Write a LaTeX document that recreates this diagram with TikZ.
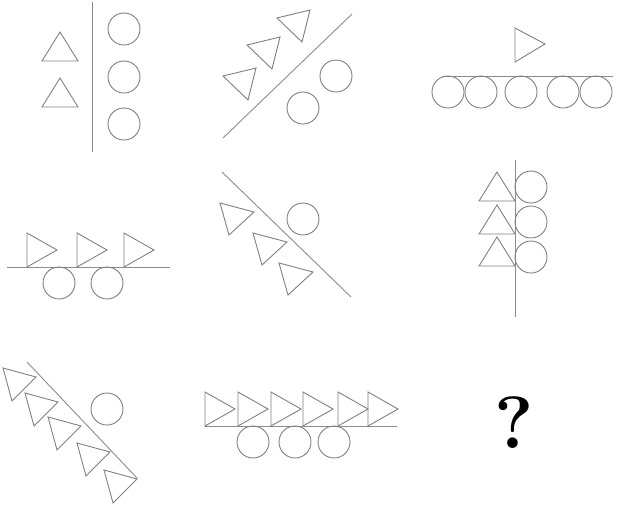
\documentclass[tikz,border=0pt]{standalone}
\usepackage{tikz}

\begin{document}
\begin{tikzpicture}[
  x=1pt, y=-1pt,
  ax/.style={draw=black!45, line width=0.9pt},
  tri/.style={draw=black!50, line width=0.9pt, line join=miter},
  circ/.style={draw=black!50, line width=0.9pt},
  qmark/.style={font=\fontsize{74}{74}\selectfont\bfseries, inner sep=0pt}
]
\useasboundingbox (0,0) rectangle (619,507);

% row 1
\draw[ax] (92,2) -- (92,152);
\foreach \y in {61,107}
  \draw[tri] (42,\y) -- (60,\y-29) -- (78,\y) -- cycle;
\foreach \y in {29,77,124}
  \draw[circ] (124,\y) circle[radius=16pt];

\draw[ax] (223,138) -- (352,14);
\foreach \dx/\dy in {0/0,-30/27,-54/58}
  \draw[tri,shift={(\dx,\dy)}] (277,18) -- (310,10) -- (302,42) -- cycle;
\draw[circ] (336,76) circle[radius=16pt];
\draw[circ] (303,108) circle[radius=16pt];

\draw[ax] (442,76) -- (613,76);
\draw[tri] (515,28) -- (545,44) -- (515,62) -- cycle;
\foreach \x in {448,481,521,563,596}
  \draw[circ] (\x,92) circle[radius=16pt];

% row 2
\draw[ax] (7,267) -- (170,267);
\foreach \x in {27,77,124}
  \draw[tri] (\x,233) -- (\x+30,250) -- (\x,267) -- cycle;
\foreach \x in {59,107}
  \draw[circ] (\x,283) circle[radius=16pt];

\draw[ax] (222,172) -- (351,297);
\foreach \dx/\dy in {0/0,33/30,59/60}
  \draw[tri,shift={(\dx,\dy)}] (220,203) -- (254,212) -- (229,235) -- cycle;
\draw[circ] (303,219) circle[radius=16pt];

\draw[ax] (515,160) -- (515,317);
\foreach \y in {201,234,266}
  \draw[tri] (479,\y) -- (497,\y-29) -- (515,\y) -- cycle;
\foreach \y in {187,222,257}
  \draw[circ] (531,\y) circle[radius=16pt];

% row 3
\draw[ax] (27,362) -- (137,478);
\foreach \dx/\dy in {0/0,22/25,45/49,74/75,101/102}
  \draw[tri,shift={(\dx,\dy)}] (3,368) -- (36,377) -- (12,401) -- cycle;
\draw[circ] (107,409) circle[radius=16pt];

\draw[ax] (205,426) -- (397,426);
\foreach \x in {205,238,271,303,338,368}
  \draw[tri] (\x,392) -- (\x+30,409) -- (\x,426) -- cycle;
\foreach \x in {253,295,334}
  \draw[circ] (\x,442) circle[radius=16pt];

\node[qmark] (q) at (514,423) {?};
\end{tikzpicture}
\end{document}
